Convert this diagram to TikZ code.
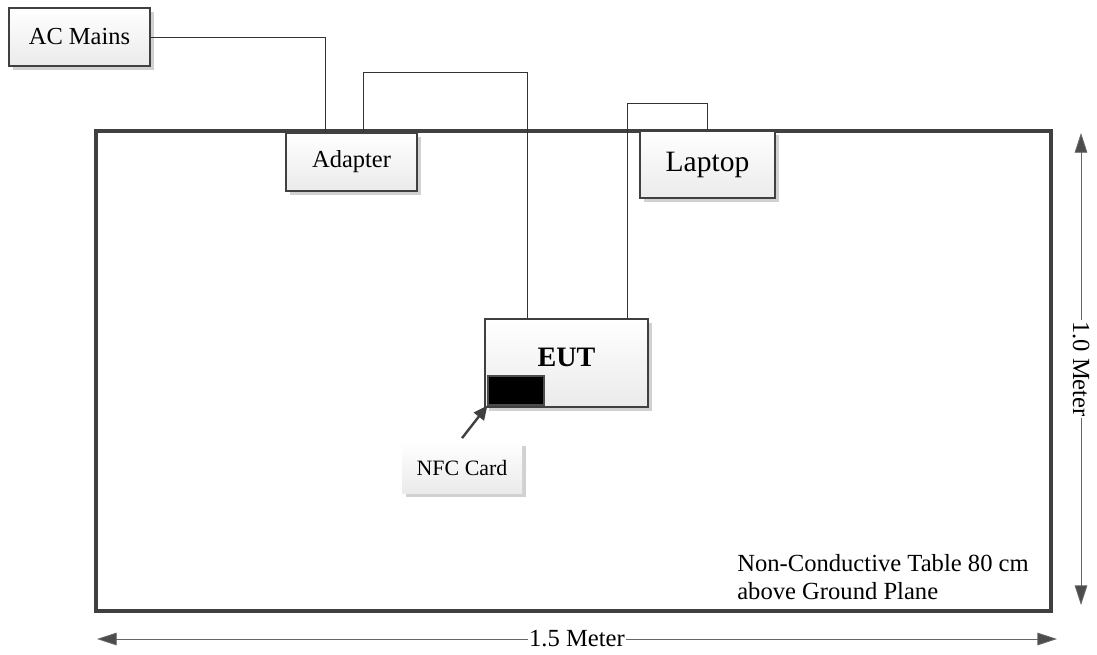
\documentclass[tikz,border=0pt]{standalone}
\usepackage{fontspec}
\setmainfont{Liberation Serif}
\usepackage{tikz}
\usetikzlibrary{arrows.meta}
\usetikzlibrary{calc}
\usetikzlibrary{shadows}

\tikzset{
	box/.style={draw=black!75, line width=1.3pt, top color=white, bottom color=black!8,
		drop shadow={shadow xshift=2.5pt, shadow yshift=-2.5pt, fill=black!18, opacity=1},
		inner sep=0pt, font=\fontsize{17.4}{20}\selectfont},
	wire/.style={draw=black!80, line width=0.6pt},
	dim/.style={draw=black!60, line width=0.6pt, {Triangle[length=14pt, width=9pt, fill=black!70]}-{Triangle[length=14pt, width=9pt, fill=black!70]}},
	dimlabel/.style={fill=white, inner sep=1pt, font=\fontsize{17.5}{20}\selectfont}
}

\begin{document}
\begin{tikzpicture}[x=0.025cm, y=-0.025cm]
	\useasboundingbox (0,0) rectangle (1097,654);
	% table
	\draw[draw=black!75, line width=2.6pt] (96,131) rectangle (1051,611);
	\node[anchor=west, align=left, inner sep=0pt, font=\fontsize{17.5}{20}\selectfont] (tabletext) at (737,577) {Non-Conductive Table 80 cm\\above Ground Plane};

	% devices
	\node[box, minimum width=141*0.025cm, minimum height=58*0.025cm] (ac) at (79.5,37) {AC Mains};
	\node[box, minimum width=131*0.025cm, minimum height=58*0.025cm] (adapter) at (351.5,162) {Adapter};
	\node[box, minimum width=135*0.025cm, minimum height=67*0.025cm, font=\fontsize{21}{24}\selectfont] (laptop) at (707.5,164.5) {Laptop};
	\node[box, minimum width=163*0.025cm, minimum height=88*0.025cm, font=\fontsize{20}{24}\selectfont\bfseries, text depth=8pt] (eut) at (566.5,363) {EUT};
	\node[draw=black!70, fill=black, line width=0.8pt, minimum width=56*0.025cm, minimum height=29*0.025cm, inner sep=0pt] (card) at (516,390.5) {};
	\node[box, draw=none, minimum width=120*0.025cm, minimum height=51*0.025cm, font=\fontsize{15.6}{18}\selectfont] (nfc) at (462,467.5) {NFC Card};

	% wires
	\draw[wire] (ac.east) -| ($(adapter.north)+(-26.5,0)$);
	\draw[wire] ($(adapter.north)+(11.5,0)$) -- ++(0,-60) -| ($(eut.north)+(-39.5,0)$);
	\draw[wire] ($(eut.north)+(60.5,0)$) -- ++(0,-215) -| (laptop.north);
	\draw[draw=black!75, line width=1.7pt, -{Triangle[length=10pt, width=9pt]}] ($(nfc.north)+(0,-3)$) -- (card.south west);

	% dimensions
	\coordinate (vtop) at (1081,133);
	\coordinate (vbot) at (1081,605);
	\coordinate (hleft) at (97,639);
	\coordinate (hright) at (1057,639);
	\draw[dim] (vtop) -- node[dimlabel, rotate=-90] (vlabel) {1.0 Meter} (vbot);
	\draw[dim] (hleft) -- node[dimlabel] (hlabel) {1.5 Meter} (hright);
\end{tikzpicture}
\end{document}
